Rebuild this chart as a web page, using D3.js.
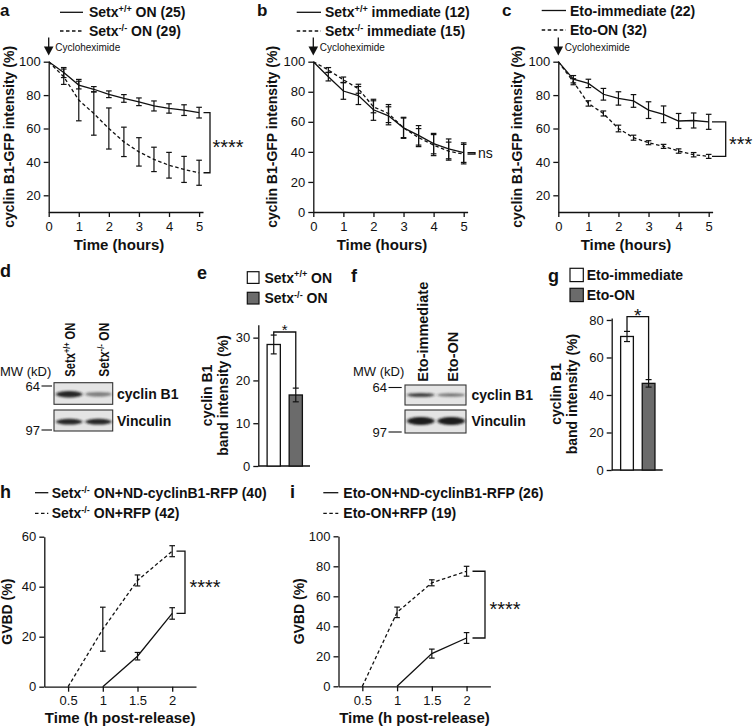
<!DOCTYPE html>
<html><head><meta charset="utf-8">
<script src="https://cdn.jsdelivr.net/npm/d3@7"></script>
<style>
body{margin:0;background:#fff;}
svg{display:block;font-family:"Liberation Sans",Arial,sans-serif;}
</style></head><body>
<svg id="fig" width="755" height="728"></svg>
<script>
// ================= DATA =================
const hours = [0,0.5,1,1.5,2,2.5,3,3.5,4,4.5,5];
const hourTicks = [0,1,2,3,4,5];

// panel a
const aWtMean = [100,93.5,86,83.5,80.5,78,76,73.5,72,71,69.5];
const aWtErr  = [0,3,2.3,1.6,2,2.3,2.3,3,2.8,3.2,3.2];
const aKoMean = [100,91,77,69,60,52,46,41.5,38,35.5,33.5];
const aKoErr  = [0,4.6,12.4,13,12.3,8.8,8.5,7.3,7.7,7.8,7.5];
// panel b
const bWtMean = [100,90,80.5,77.5,68,64,56,51,45.5,42,39.5];
const bWtErr  = [0,2.8,5.5,6,7,6,7,6.5,6.8,6.6,6.5];
const bKoMean = [100,94.5,88,82,70,65.5,56,49.5,44.5,40.5,38.5];
const bKoErr  = [0,1.6,1.8,3,4,6,6.5,6,7,6,6.5];
// panel c
const cImmMean = [100,89.5,87,80.5,78,76.5,71,68.5,64.5,64.8,64];
const cImmErr  = [0,2.2,2.5,3.5,4,3.8,5,5,4.5,4.5,4.5];
const cOnMean  = [100,88,75,69,60,54.5,51.5,49.3,46.5,44.3,43.3];
const cOnErr   = [0,1.8,1.6,1.5,2,1.5,1.2,1.2,1.3,1.3,1.2];
// panel e
const eCats = ["Setx+/+ ON","Setx-/- ON"];
const eMean = [28.4,16.6];
const eErr  = [2.2,1.6];
// panel g
const gCats = ["Eto-immediate","Eto-ON"];
const gMean = [71.2,46.2];
const gErr  = [2.7,2.0];
// panel h
const gvbdTimes = [0.5,1,1.5,2];
const gvbdTicks = [0.5,1,1.5,2];
const ndTimes = [1,1.5,2];
const hRfpMean = [0,23,42.5,54.2];
const hRfpErr  = [0,8.8,2.2,2.2];
const hNdMean  = [0,12.2,29.3];
const hNdErr   = [0,1.5,2.3];
// panel i
const iRfpMean = [0,49.3,69,76.7];
const iRfpErr  = [0,3.5,2,3.3];
const iNdMean  = [0,21.8,32.2];
const iNdErr   = [0,3,3.6];
// blots (relative band strength)
const dLanes = ["Setx+/+ ON","Setx-/- ON"];
const dCyclinBand = [0.95,0.5];
const dVinculinBand = [0.95,0.95];
const fLanes = ["Eto-immediate","Eto-ON"];
const fCyclinBand = [0.8,0.55];
const fVinculinBand = [1,1];

// ================= DRAWING =================
const svg = d3.select("#fig");
const INK = "#111";
const defs = svg.append("defs");
defs.append("filter").attr("id","blur").attr("x","-30%").attr("y","-100%").attr("width","160%").attr("height","300%")
  .append("feGaussianBlur").attr("stdDeviation","1.6 1.0");

function addRich(t, parts){
  parts.forEach((p,i)=>{
    const s = t.append("tspan").text(p[0]);
    if(p[1]) s.attr("font-size","0.65em").attr("dy","-0.55em");
    else if(i>0 && parts[i-1][1]) s.attr("dy","0.3575em");
  });
  return t;
}
function styleAxis(a, fs){
  a.select(".domain").attr("stroke",INK).attr("stroke-width",1.3);
  a.selectAll(".tick line").attr("stroke",INK).attr("stroke-width",1.3);
  a.selectAll(".tick text").attr("fill",INK).attr("font-size",fs||13).attr("font-family",'"Liberation Sans",Arial,sans-serif');
}
function letter(txt,x,y,fs){
  svg.append("text").attr("x",x).attr("y",y).attr("font-size",fs||18).attr("font-weight","bold").attr("fill",INK).text(txt);
}
function vlabel(lines, xs, cy, fs){
  lines.forEach((l,i)=>{
    svg.append("text").attr("transform",`translate(${xs[i]},${cy}) rotate(-90)`)
      .attr("text-anchor","middle").attr("font-size",fs||14).attr("font-weight","bold").attr("fill",INK).text(l);
  });
}
function stars(txt,x,cy,fs,anchor){
  svg.append("text").attr("x",x).attr("y",cy+0.57*fs).attr("font-size",fs).attr("fill",INK)
    .attr("text-anchor",anchor||"start").text(txt);
}

function linePanel(o){
  const x = d3.scaleLinear().domain(o.xDomain).range(o.xRange);
  const y = d3.scaleLinear().domain(o.yDomain).range(o.yRange);
  const g = svg.append("g");
  const ax = g.append("g").attr("transform",`translate(0,${o.yRange[0]})`)
    .call(d3.axisBottom(x).tickValues(o.xTicks).tickFormat(d=>String(d)).tickSize(5).tickSizeOuter(0).tickPadding(o.xPad!=null?o.xPad:7));
  const ay = g.append("g").attr("transform",`translate(${o.xRange[0]},0)`)
    .call(d3.axisLeft(y).tickValues(o.yTicks).tickSize(5).tickSizeOuter(0).tickPadding(3));
  styleAxis(ax); styleAxis(ay);

  o.series.forEach(s=>{
    const pts = s.xs.map((t,i)=>({t, m:s.mean[i], e:s.err[i]}));
    g.append("path").datum(pts)
      .attr("d", d3.line().x(d=>x(d.t)).y(d=>y(d.m)))
      .attr("fill","none").attr("stroke",INK).attr("stroke-width",1.3)
      .attr("stroke-dasharray", s.dashed ? "3.5,2.5" : null);
    const eb = g.selectAll(null).data(pts.filter(d=>d.e>0)).enter().append("g")
      .attr("stroke",INK).attr("stroke-width",1.2);
    eb.append("line").attr("x1",d=>x(d.t)).attr("x2",d=>x(d.t)).attr("y1",d=>y(d.m-d.e)).attr("y2",d=>y(d.m+d.e));
    eb.append("line").attr("x1",d=>x(d.t)-2.8).attr("x2",d=>x(d.t)+2.8).attr("y1",d=>y(d.m-d.e)).attr("y2",d=>y(d.m-d.e));
    eb.append("line").attr("x1",d=>x(d.t)-2.8).attr("x2",d=>x(d.t)+2.8).attr("y1",d=>y(d.m+d.e)).attr("y2",d=>y(d.m+d.e));
  });

  // legend
  o.legend.forEach((l,i)=>{
    const ly = o.legendY[i];
    g.append("line").attr("x1",o.legendX[0]).attr("x2",o.legendX[1]).attr("y1",ly).attr("y2",ly)
      .attr("stroke",INK).attr("stroke-width",1.3).attr("stroke-dasharray", l.dashed ? "3.5,2.5" : null);
    addRich(g.append("text").attr("x",o.legendX[2]).attr("y",ly+5).attr("font-size",14)
      .attr("font-weight","bold").attr("fill",INK), l.parts);
  });

  // bracket
  const b = o.bracket;
  const y1 = y(b.v1), y2 = y(b.v2);
  g.append("path").attr("d",`M${b.x1},${y1}H${b.x2}V${y2}H${b.x1}`)
    .attr("fill","none").attr("stroke",INK).attr("stroke-width",1.3);
  if(b.ns){
    g.append("text").attr("x",b.lx).attr("y",(y1+y2)/2+5).attr("font-size",14).attr("fill",INK).text(b.label);
  } else {
    stars(b.label, b.lx, (y1+y2)/2, b.fs);
  }

  // arrow
  if(o.arrow){
    const x0 = x(0);
    g.append("line").attr("x1",x0).attr("x2",x0).attr("y1",37.5).attr("y2",47.5).attr("stroke",INK).attr("stroke-width",1.3);
    g.append("path").attr("d",`M${x0-4.8},46.5L${x0+4.8},46.5L${x0},55.5Z`).attr("fill",INK);
    g.append("text").attr("x",x0+6.5).attr("y",50.5).attr("font-size",10).attr("fill",INK).text("Cycloheximide");
  }
  // axis titles
  g.append("text").attr("x",o.titleX!=null?o.titleX:(o.xRange[0]+o.xRange[1])/2).attr("y",o.titleY)
    .attr("text-anchor","middle").attr("font-size",15).attr("font-weight","bold").attr("fill",INK).text(o.xTitle);
  vlabel([o.yTitle],[o.yTitleX],(o.yRange[0]+o.yRange[1])/2,14);
  return {x,y};
}

function barPanel(o){
  const y = d3.scaleLinear().domain(o.yDomain).range(o.yRange);
  const x = d3.scaleBand().domain(o.cats).range(o.bandRange).paddingInner(o.pi).paddingOuter(o.po);
  const g = svg.append("g");
  const ay = g.append("g").attr("transform",`translate(${o.axisX},0)`)
    .call(d3.axisLeft(y).tickValues(o.yTicks).tickSize(5).tickSizeOuter(0).tickPadding(3));
  styleAxis(ay);
  g.append("line").attr("x1",o.axisX).attr("x2",o.axisEnd).attr("y1",o.yRange[0]).attr("y2",o.yRange[0])
    .attr("stroke",INK).attr("stroke-width",1.3);
  const fills = ["#ffffff","#6b6b6b"];
  g.selectAll(null).data(o.cats).enter().append("rect")
    .attr("x",d=>x(d)).attr("width",x.bandwidth())
    .attr("y",(d,i)=>y(o.mean[i])).attr("height",(d,i)=>y(0)-y(o.mean[i]))
    .attr("fill",(d,i)=>fills[i]).attr("stroke",INK).attr("stroke-width",1.3);
  const eb = g.selectAll(null).data(o.cats).enter().append("g").attr("stroke",INK).attr("stroke-width",1.2);
  const cx = d=>x(d)+x.bandwidth()/2;
  eb.append("line").attr("x1",cx).attr("x2",cx).attr("y1",(d,i)=>y(o.mean[i]-o.err[i])).attr("y2",(d,i)=>y(o.mean[i]+o.err[i]));
  [-1,1].forEach(sg=>{
    eb.append("line").attr("x1",d=>cx(d)-3).attr("x2",d=>cx(d)+3)
      .attr("y1",(d,i)=>y(o.mean[i]+sg*o.err[i])).attr("y2",(d,i)=>y(o.mean[i]+sg*o.err[i]));
  });
  // bracket
  const c0 = cx(o.cats[0]), c1 = cx(o.cats[1]);
  const top0 = y(o.mean[0]+o.err[0]), top1 = y(o.mean[1]+o.err[1]);
  g.append("path").attr("d",`M${c0},${top0}V${o.bracketY}H${c1}V${top1}`)
    .attr("fill","none").attr("stroke",INK).attr("stroke-width",1.3);
  stars("*", (c0+c1)/2, o.starY, o.starFs, "middle");
  // legend
  o.legend.forEach((l,i)=>{
    g.append("rect").attr("x",o.legX).attr("y",o.legBoxY[i]).attr("width",o.legBox).attr("height",o.legBox)
      .attr("fill",fills[i]).attr("stroke",INK).attr("stroke-width",1.2);
    addRich(g.append("text").attr("x",o.legTextX).attr("y",o.legTextY[i]).attr("font-size",14)
      .attr("font-weight","bold").attr("fill",INK), l);
  });
  vlabel(["cyclin B1","band intensity (%)"], o.yLabelX, (o.yRange[0]+o.yRange[1])/2, 14);
}

function blot(o){
  const g = svg.append("g");
  const lx = d3.scaleBand().domain(o.lanes).range([o.x0,o.x1]);
  o.rows.forEach(r=>{
    g.append("rect").attr("x",o.x0).attr("y",r.y0).attr("width",o.x1-o.x0).attr("height",r.y1-r.y0)
      .attr("fill","#e4e4e4").attr("stroke","#333").attr("stroke-width",1.1);
    g.selectAll(null).data(o.lanes).enter().append("ellipse")
      .attr("cx",d=>lx(d)+lx.bandwidth()/2+0.5).attr("cy",r.cy)
      .attr("rx",lx.bandwidth()/2-1.5).attr("ry",(d,i)=>r.h*(0.45+0.55*r.vals[i]))
      .attr("fill","#1a1a1a").attr("opacity",(d,i)=>r.vals[i]).attr("filter","url(#blur)");
    g.append("text").attr("x",o.textX).attr("y",r.textY).attr("font-size",14).attr("font-weight","bold").attr("fill",INK).text(r.name);
  });
  o.labels.forEach((l,i)=>{
    const t = g.append("text").attr("transform",`translate(${o.labelX[i]},${o.labelBottom}) rotate(-90)`)
      .attr("font-size",o.labelFs).attr("font-weight","bold").attr("fill",INK);
    if(o.labelLen) t.attr("textLength",o.labelLen[i]).attr("lengthAdjust","spacingAndGlyphs");
    addRich(t,l);
  });
  g.append("text").attr("x",o.mwX).attr("y",o.mwY).attr("font-size",13).attr("fill",INK).text("MW (kD)");
  o.markers.forEach(m=>{
    g.append("text").attr("x",o.markTextX).attr("y",m.y+4.5).attr("text-anchor","end").attr("font-size",13).attr("fill",INK).text(m.label);
    g.append("line").attr("x1",o.markTextX+1.5).attr("x2",o.markLineX).attr("y1",m.y).attr("y2",m.y).attr("stroke",INK).attr("stroke-width",1.1);
  });
}

// ---------- panels a,b,c ----------
letter("a",0,15.5,17); letter("b",257,15.5,17); letter("c",502,15.5,17);
linePanel({
  xDomain:[0,5.13], xRange:[48.7,203], yDomain:[10,100], yRange:[212,61.7],
  xTicks:hourTicks, yTicks:[20,40,60,80,100], xPad:5,
  series:[{xs:hours,mean:aWtMean,err:aWtErr,dashed:false},{xs:hours,mean:aKoMean,err:aKoErr,dashed:true}],
  legend:[{parts:[["Setx",0],["+/+",1],[" ON (25)",0]],dashed:false},{parts:[["Setx",0],["-/-",1],[" ON (29)",0]],dashed:true}],
  legendX:[60,83,89], legendY:[12.3,31],
  bracket:{x1:203.5,x2:210,v1:aWtMean[10],v2:aKoMean[10],label:"****",lx:212.5,fs:20},
  arrow:true, xTitle:"Time (hours)", titleX:119, titleY:249.5, yTitle:"cyclin B1-GFP intensity (%)", yTitleX:13.5
});
linePanel({
  xDomain:[0,5.13], xRange:[313.3,467.6], yDomain:[0,100], yRange:[212,61.7],
  xTicks:hourTicks, yTicks:[0,20,40,60,80,100], xPad:5,
  series:[{xs:hours,mean:bWtMean,err:bWtErr,dashed:false},{xs:hours,mean:bKoMean,err:bKoErr,dashed:true}],
  legend:[{parts:[["Setx",0],["+/+",1],[" immediate (12)",0]],dashed:false},{parts:[["Setx",0],["-/-",1],[" immediate (15)",0]],dashed:true}],
  legendX:[296.7,321,325], legendY:[12.3,31],
  bracket:{x1:467.5,x2:475,v1:bWtMean[10],v2:bKoMean[10],label:"ns",lx:478,ns:true},
  arrow:true, xTitle:"Time (hours)", titleX:382, titleY:249.5, yTitle:"cyclin B1-GFP intensity (%)", yTitleX:277
});
linePanel({
  xDomain:[0,5.13], xRange:[558.3,712.6], yDomain:[10,100], yRange:[212,61.7],
  xTicks:hourTicks, yTicks:[20,40,60,80,100], xPad:5,
  series:[{xs:hours,mean:cImmMean,err:cImmErr,dashed:false},{xs:hours,mean:cOnMean,err:cOnErr,dashed:true}],
  legend:[{parts:[["Eto-immediate (22)",0]],dashed:false},{parts:[["Eto-ON (32)",0]],dashed:true}],
  legendX:[541.7,566,570], legendY:[10.5,30],
  bracket:{x1:712,x2:725.7,v1:cImmMean[10],v2:cOnMean[10],label:"***",lx:729,fs:20},
  arrow:true, xTitle:"Time (hours)", titleX:626, titleY:249.5, yTitle:"cyclin B1-GFP intensity (%)", yTitleX:522
});

// ---------- d,f blots ----------
letter("d",0,277); letter("e",197,279); letter("f",351,282); letter("g",548,282);
blot({
  x0:54, x1:112.7, lanes:dLanes, textX:117,
  rows:[{name:"cyclin B1",y0:382.7,y1:404.3,cy:394.3,h:3.3,vals:dCyclinBand,textY:398.5},
        {name:"Vinculin",y0:410,y1:431,cy:421.7,h:3,vals:dVinculinBand,textY:426}],
  labels:[[["Setx",0],["+/+",1],[" ON",0]],[["Setx",0],["-/-",1],[" ON",0]]],
  labelX:[75,109], labelBottom:376.7, labelFs:14, labelLen:[54,54],
  mwX:0, mwY:375.5, markTextX:40, markLineX:52,
  markers:[{label:"64",y:386},{label:"97",y:430}]
});
blot({
  x0:405, x1:466, lanes:fLanes, textX:471.5,
  rows:[{name:"cyclin B1",y0:385,y1:405,cy:395,h:2.2,vals:fCyclinBand,textY:399.5},
        {name:"Vinculin",y0:410,y1:433,cy:421,h:4,vals:fVinculinBand,textY:426}],
  labels:[[["Eto-immediate",0]],[["Eto-ON",0]]],
  labelX:[428,458], labelBottom:381.7, labelFs:14.5,
  mwX:353, mwY:376, markTextX:387, markLineX:401.7,
  markers:[{label:"64",y:387.5},{label:"97",y:432}]
});

// ---------- e,g bars ----------
barPanel({
  cats:eCats, mean:eMean, err:eErr, yDomain:[0,33], yRange:[466,324.8], yTicks:[0,10,20,30],
  bandRange:[260.5,309], pi:0.4, po:0.3, axisX:258.3, axisEnd:310,
  bracketY:332, starY:326.5, starFs:15,
  legend:[[["Setx",0],["+/+",1],[" ON",0]],[["Setx",0],["-/-",1],[" ON",0]]],
  legX:247.3, legBox:11.7, legBoxY:[271.7,292.3], legTextX:264.5, legTextY:[282.5,303],
  yLabelX:[211.5,227.5]
});
barPanel({
  cats:gCats, mean:gMean, err:gErr, yDomain:[0,81], yRange:[470,318.1], yTicks:[0,20,40,60,80],
  bandRange:[612,663.6], pi:0.41, po:0.4, axisX:611.7, axisEnd:662.7,
  bracketY:316.7, starY:311, starFs:19,
  legend:[[["Eto-immediate",0]],[["Eto-ON",0]]],
  legX:570, legBox:13.3, legBoxY:[268.3,288.3], legTextX:586.7, legTextY:[280,300],
  yLabelX:[561,577]
});

// ---------- h,i ----------
letter("h",0,498); letter("i",290,498);
linePanel({
  xDomain:[0.157,2.343], xRange:[44.3,196], yDomain:[0,60], yRange:[686.7,536.7],
  xTicks:gvbdTicks, yTicks:[0,20,40,60], xPad:4,
  series:[{xs:ndTimes,mean:hNdMean,err:hNdErr,dashed:false},{xs:gvbdTimes,mean:hRfpMean,err:hRfpErr,dashed:true}],
  legend:[{parts:[["Setx",0],["-/-",1],[" ON+ND-cyclinB1-RFP (40)",0]],dashed:false},{parts:[["Setx",0],["-/-",1],[" ON+RFP (42)",0]],dashed:true}],
  legendX:[35,48.3,51.7], legendY:[492.7,513.3],
  bracket:{x1:176.5,x2:185,v1:hRfpMean[3],v2:hNdMean[2],label:"****",lx:189.5,fs:20},
  arrow:false, xTitle:"Time (h post-release)", titleY:723, yTitle:"GVBD (%)", yTitleX:12
});
linePanel({
  xDomain:[0.157,2.343], xRange:[338.5,490.4], yDomain:[0,100], yRange:[686.3,536.3],
  xTicks:gvbdTicks, yTicks:[0,20,40,60,80,100], xPad:4,
  series:[{xs:ndTimes,mean:iNdMean,err:iNdErr,dashed:false},{xs:gvbdTimes,mean:iRfpMean,err:iRfpErr,dashed:true}],
  legend:[{parts:[["Eto-ON+ND-cyclinB1-RFP (26)",0]],dashed:false},{parts:[["Eto-ON+RFP (19)",0]],dashed:true}],
  legendX:[323.3,338.3,343.3], legendY:[492.7,513.3],
  bracket:{x1:472.5,x2:485,v1:iRfpMean[3],v2:iNdMean[2],label:"****",lx:489.5,fs:20},
  arrow:false, xTitle:"Time (h post-release)", titleY:723, yTitle:"GVBD (%)", yTitleX:304
});
</script>
</body></html>
